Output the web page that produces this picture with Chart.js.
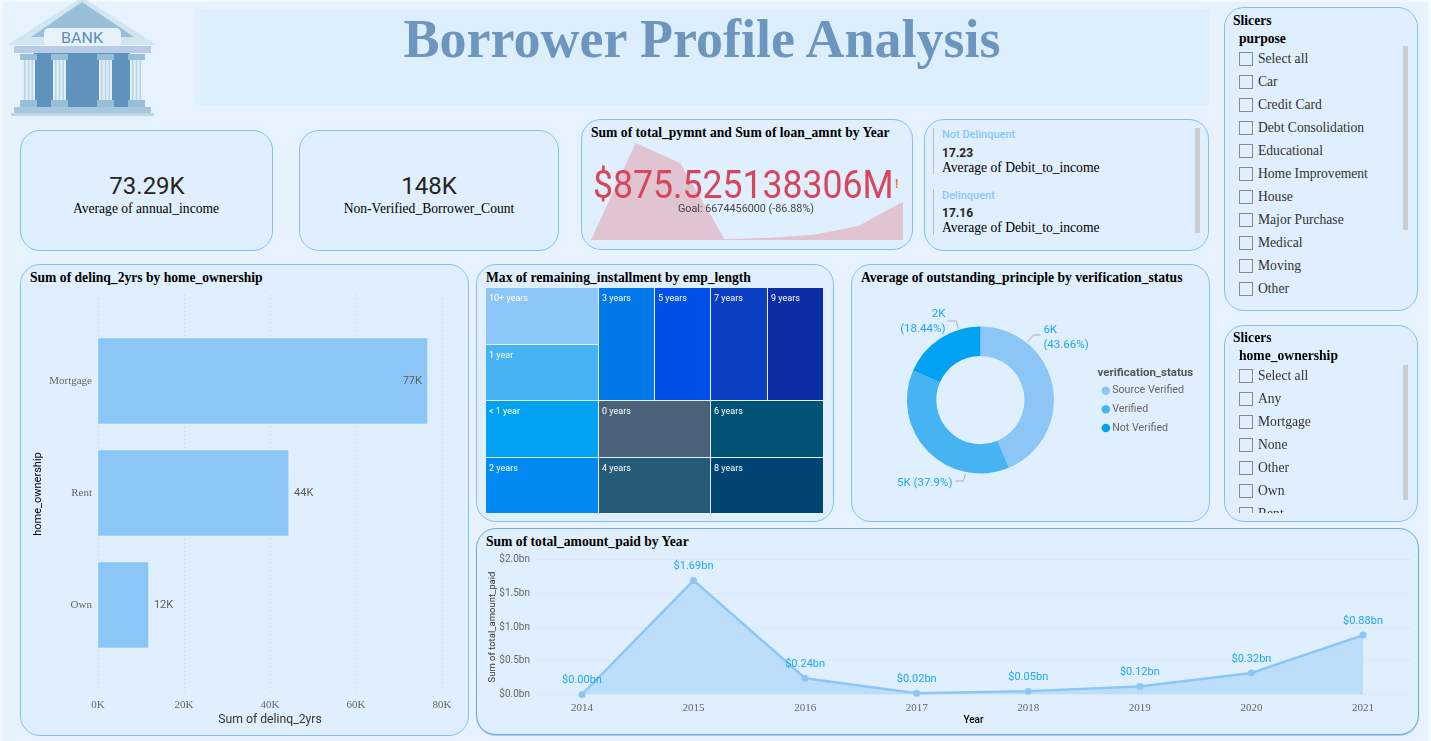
<!DOCTYPE html>
<html>
<head>
<meta charset="utf-8">
<title>Borrower Profile Analysis</title>
<script src="https://cdn.jsdelivr.net/npm/chart.js@4"></script>
<style>
html, body { margin: 0; padding: 0; background: #F3F8FC; overflow: hidden; }
#page { position: absolute; left: 3px; top: 2px; width: 1425px; height: 739px; background: #E6F3FF; }
#abs { position: absolute; left: -3px; top: -2px; width: 1431px; height: 741px; }
.panel { position: absolute; box-sizing: border-box; background: #DFEFFD; border: 1px solid #85BEF5; border-radius: 20px; }
.t { position: absolute; white-space: nowrap; line-height: 16px; font-family: "Liberation Serif", serif; color: #000; font-size: 13.6px; }
.title { font-weight: bold; font-size: 13.6px; }
.din { font-family: Roboto, sans-serif; }
.c { transform: translateX(-50%); }
canvas { position: absolute; }
.box { position: absolute; box-sizing: border-box; width: 14px; height: 14px; border: 1px solid #8a8a8a; }
.scroll { position: absolute; width: 5px; background: #C8CDD3; }
.rule { position: absolute; width: 1px; background: #B9BEC4; }
</style>
</head>
<body>
<div id="page"><div id="abs">

<svg style="position:absolute;left:0;top:0" width="170" height="120">
  <defs>
    <g id="col">
      <rect x="0" y="0" width="17" height="6" fill="#98BFD8"/>
      <rect x="2" y="6" width="13" height="40" fill="#E3EFF8"/>
      <rect x="4" y="6" width="1.5" height="40" fill="#B8D2E6"/>
      <rect x="7.8" y="6" width="1.5" height="40" fill="#B8D2E6"/>
      <rect x="11.5" y="6" width="1.5" height="40" fill="#B8D2E6"/>
      <rect x="0" y="46" width="17" height="7" fill="#98BFD8"/>
    </g>
  </defs>
  <polygon points="82,-3 7,45 157,45" fill="#D2E6F1"/>
  <polygon points="82,2 31,37 134,37" fill="#98BFD8"/>
  <rect x="44" y="28" width="77" height="18" rx="5" fill="#E6F3FD"/>
  <text x="82" y="43" text-anchor="middle" font-family="Roboto" font-size="15" fill="#5C8DBB" textLength="42" lengthAdjust="spacingAndGlyphs">BANK</text>
  <rect x="14" y="46" width="137" height="7" fill="#B8CCE8"/>
  <rect x="34" y="53" width="96" height="54" fill="#6092BE"/>
  <use href="#col" x="20" y="54"/><use href="#col" x="51" y="54"/>
  <use href="#col" x="97" y="54"/><use href="#col" x="128" y="54"/>
  <rect x="14" y="107" width="137" height="6" fill="#A5C8DE"/>
  <rect x="11" y="113" width="143" height="3" fill="#BCD8E8"/>
</svg>

<div style="position:absolute;left:195px;top:9px;width:1014px;height:96px;background:#DDEFFD"></div>
<div class="t c" style="left:702px;top:12px;line-height:54px;font-size:54px;font-weight:bold;color:#6C96BD">Borrower Profile Analysis</div>

<div class="panel" style="left:20px;top:130px;width:253px;height:121px"></div>
<div class="t c din" style="left:147px;top:174px;line-height:24px;font-size:24px;color:#252423">73.29K</div>
<div class="t c" style="left:146px;top:201px">Average of annual_income</div>

<div class="panel" style="left:299px;top:130px;width:260px;height:121px"></div>
<div class="t c din" style="left:429px;top:174px;line-height:24px;font-size:24px;color:#252423">148K</div>
<div class="t c" style="left:429px;top:201px">Non-Verified_Borrower_Count</div>

<div class="panel" style="left:581px;top:119px;width:332px;height:131px"></div>
<canvas id="sparkChart" width="312" height="97" style="left:591px;top:143px"></canvas>
<div class="t title" style="left:591px;top:125px">Sum of total_pymnt and Sum of loan_amnt by Year</div>
<div class="t din" style="left:593px;top:166px;line-height:38px;font-size:38px;color:#D9455A;transform:scaleX(0.937);transform-origin:left">$875.525138306M</div>
<div class="t din" style="left:895px;top:176px;font-size:12px;font-weight:700;color:#E8743B">!</div>
<div class="t c din" style="left:746px;top:201px;font-size:10.8px;color:#444">Goal: 6674456000 (-86.88%)</div>

<div class="panel" style="left:924px;top:119px;width:285px;height:132px"></div>
<div class="rule" style="left:933px;top:128px;height:46px"></div>
<div class="rule" style="left:933px;top:189px;height:46px"></div>
<div class="scroll" style="left:1195px;top:128px;height:105px"></div>
<div class="t din" style="left:942px;top:127px;font-size:11px;font-weight:500;color:#8CC6F7">Not Delinquent</div>
<div class="t din" style="left:942px;top:145px;font-size:12px;font-weight:700;color:#252423">17.23</div>
<div class="t" style="left:942px;top:160px">Average of Debit_to_income</div>
<div class="t din" style="left:942px;top:188px;font-size:11px;font-weight:500;color:#8CC6F7">Delinquent</div>
<div class="t din" style="left:942px;top:205px;font-size:12px;font-weight:700;color:#252423">17.16</div>
<div class="t" style="left:942px;top:220px">Average of Debit_to_income</div>

<div class="panel" style="left:20px;top:264px;width:449px;height:472px"></div>
<div class="t title" style="left:30px;top:270px">Sum of delinq_2yrs by home_ownership</div>
<canvas id="barChart" width="445" height="448" style="left:22px;top:285px"></canvas>

<div class="panel" style="left:476px;top:264px;width:358px;height:258px"></div>
<div class="t title" style="left:486px;top:270px">Max of remaining_installment by emp_length</div>
<canvas id="treeChart" width="338" height="226" style="left:486px;top:288px"></canvas>

<div class="panel" style="left:851px;top:264px;width:359px;height:258px"></div>
<div class="t title" style="left:861px;top:270px">Average of outstanding_principle by verification_status</div>
<canvas id="donutChart" width="354" height="220" style="left:853px;top:290px"></canvas>

<div class="panel" style="left:476px;top:528px;width:943px;height:207px;border-color:#6FA8DC;box-shadow:0 1px 0 #A6CDF0"></div>
<div class="t title" style="left:486px;top:534px">Sum of total_amount_paid by Year</div>
<canvas id="lineChart" width="936" height="183" style="left:479px;top:550px"></canvas>

<div class="panel" style="left:1224px;top:7px;width:194px;height:304px"></div>
<div id="slicerPurpose"></div>
<div class="scroll" style="left:1403px;top:46px;height:184px"></div>

<div class="panel" style="left:1224px;top:325px;width:194px;height:197px"></div>
<div id="slicerHome" style="position:absolute;left:0;top:0;width:1431px;height:513px;overflow:hidden"></div>
<div class="scroll" style="left:1403px;top:365px;height:135px"></div>

</div></div>

<script>
// delinq_2yrs by home_ownership
const homeOwnership = ['Mortgage', 'Rent', 'Own'];
const delinqSum = [76500, 44200, 11600];
const delinqLabels = ['77K', '44K', '12K'];

// treemap, every tile is about the same size
const empLengths = ['10+ years', '1 year', '< 1 year', '2 years', '3 years', '5 years', '7 years', '9 years', '0 years', '6 years', '4 years', '8 years'];
const remainingMax = [60, 60, 60, 60, 60, 60, 60, 60, 60, 60, 60, 60];
const empColors = ['#8CC6F7', '#46B3F3', '#00A2F1', '#0089F0', '#0078E8', '#0050E8', '#0A3FC4', '#0C2DA3', '#4A6279', '#005374', '#255B78', '#004473'];

// donut
const verifyStatus = ['Source Verified', 'Verified', 'Not Verified'];
const verifyShare = [43.66, 37.9, 18.44];
const verifyColors = ['#8CC6F7', '#46B3F3', '#00A2F1'];

// years shared by the two area charts
const years = [2014, 2015, 2016, 2017, 2018, 2019, 2020, 2021];
const amountPaid = [0.00, 1.69, 0.24, 0.02, 0.05, 0.12, 0.32, 0.88];
const pymntTrend = [0.00, 2.23, 1.77, 0.02, 0.05, 0.12, 0.32, 0.88];

// slicers
const purposeItems = ['Select all', 'Car', 'Credit Card', 'Debt Consolidation', 'Educational', 'Home Improvement', 'House', 'Major Purchase', 'Medical', 'Moving', 'Other'];
const homeItems = ['Select all', 'Any', 'Mortgage', 'None', 'Other', 'Own', 'Rent'];

const SERIF = '"Liberation Serif", serif';
const SANS = 'Roboto, sans-serif';

function buildSlicer(id, field, items, top, firstRow) {
    var html = `<div class="t title" style="left:1233px;top:${top - 7}px">Slicers</div>`;
    html += `<div class="t title" style="left:1239px;top:${top + 11}px">${field}</div>`;
    for (var i = 0; i < items.length; i++) {
        var y = firstRow + i * 23;
        html += `<div class="box" style="left:1239px;top:${y - 7}px"></div>`;
        html += `<div class="t" style="left:1258px;top:${y - 8}px;color:#333">${items[i]}</div>`;
    }
    document.getElementById(id).innerHTML = html;
}
buildSlicer('slicerPurpose', 'purpose', purposeItems, 20, 58.5);
buildSlicer('slicerHome', 'home_ownership', homeItems, 337, 376);

// sparkline behind the goal card
new Chart(document.getElementById('sparkChart'), {
    type: 'line',
    data: {
        labels: years,
        datasets: [{
            data: pymntTrend,
            borderWidth: 0,
            pointRadius: 0,
            backgroundColor: '#E0C4D2',
            fill: 'origin',
            clip: false
        }]
    },
    options: {
        responsive: false,
        animation: false,
        plugins: { legend: { display: false }, tooltip: { enabled: false } },
        scales: {
            x: { display: false },
            y: { display: false, min: 0, max: 2.23 }
        }
    }
});

// bar chart, y is linear so the gridlines can run past the bands
const barLabelPlugin = {
    id: 'barLabels',
    afterDatasetsDraw(chart) {
        var ctx = chart.ctx;
        var meta = chart.getDatasetMeta(0);
        ctx.save();
        ctx.font = '11px ' + SANS;
        ctx.fillStyle = '#605E5C';
        ctx.textBaseline = 'middle';
        meta.data.forEach(function (bar, i) {
            var inside = delinqSum[i] > 70000;
            ctx.textAlign = inside ? 'right' : 'left';
            ctx.fillText(delinqLabels[i], bar.x + (inside ? -5 : 6), bar.y);
        });
        ctx.restore();
    }
};
new Chart(document.getElementById('barChart'), {
    type: 'bar',
    data: {
        datasets: [{
            data: delinqSum.map((v, i) => ({ x: v, y: i })),
            backgroundColor: '#8CC6F7',
            barThickness: 85
        }]
    },
    options: {
        indexAxis: 'y',
        responsive: false,
        animation: false,
        layout: { padding: { left: 10, right: 25, top: 10 } },
        plugins: { legend: { display: false }, tooltip: { enabled: false } },
        scales: {
            x: {
                min: 0, max: 80000,
                ticks: { stepSize: 20000, padding: 6, color: '#666', font: { family: SERIF, size: 11 }, callback: v => (v / 1000) + 'K' },
                grid: { color: '#CDD6DE', drawTicks: false },
                border: { display: false, dash: [1, 3] },
                title: { display: true, text: 'Sum of delinq_2yrs', color: '#333', padding: { top: 3, bottom: 6 }, font: { family: SANS, size: 12.2 } },
                afterFit: s => { s.height = 40; }
            },
            y: {
                type: 'linear',
                offset: false,
                reverse: true,
                min: -0.768, max: 2.786,
                afterBuildTicks: s => { s.ticks = homeOwnership.map((n, i) => ({ value: i })); },
                ticks: { padding: 6, color: '#666', font: { family: SERIF, size: 11 }, callback: v => homeOwnership[v] },
                grid: { display: false, drawTicks: false },
                border: { display: false },
                title: { display: true, text: 'home_ownership', color: '#000', padding: 0, font: { family: SANS, size: 11 } },
                afterFit: s => { s.width = 66; s.paddingTop = 0; s.paddingBottom = 0; }
            }
        }
    },
    plugins: [barLabelPlugin]
});

// treemap: left column holds the first four tiles, the rest fill three rows
function layoutTreemap(values) {
    var sum = a => a.reduce((p, c) => p + c, 0);
    var total = sum(values);
    var cells = [];
    var left = values.slice(0, 4);
    var leftW = sum(left);
    var y = 0;
    left.forEach(function (v) {
        cells.push({ x0: 0, x1: leftW, y0: y, y1: y + v / leftW });
        y += v / leftW;
    });
    var start = 4;
    var rowY = 0;
    var restTotal = total - leftW;
    [4, 2, 2].forEach(function (n) {
        var row = values.slice(start, start + n);
        var rowSum = sum(row);
        var h = rowSum / restTotal;
        var x = leftW;
        row.forEach(function (v) {
            var w = v / rowSum * restTotal;
            cells.push({ x0: x, x1: x + w, y0: rowY, y1: rowY + h });
            x += w;
        });
        rowY += h;
        start += n;
    });
    return cells.map(c => Object.assign(c, { x: (c.x0 + c.x1) / 2, y: (c.y0 + c.y1) / 2 }));
}
const treeCells = layoutTreemap(remainingMax);
const treemapPlugin = {
    id: 'treeTiles',
    afterDatasetsDraw(chart) {
        var ctx = chart.ctx;
        var sx = chart.scales.x, sy = chart.scales.y;
        ctx.save();
        treeCells.forEach(function (c, i) {
            var x = Math.round(sx.getPixelForValue(c.x0)), r = Math.round(sx.getPixelForValue(c.x1));
            var y = Math.round(sy.getPixelForValue(c.y0)), b = Math.round(sy.getPixelForValue(c.y1));
            ctx.fillStyle = empColors[i];
            ctx.fillRect(x, y, r - x, b - y);
            // 1px gap on the right and bottom of each tile
            ctx.fillStyle = '#E6F1FB';
            ctx.fillRect(r - 1, y, 1, b - y);
            ctx.fillRect(x, b - 1, r - x, 1);
            ctx.fillStyle = '#fff';
            ctx.font = '9px ' + SANS;
            ctx.textBaseline = 'middle';
            ctx.fillText(empLengths[i], x + 3, y + 10.5);
        });
        ctx.restore();
    }
};
new Chart(document.getElementById('treeChart'), {
    type: 'scatter',
    data: { datasets: [{ data: treeCells, pointRadius: 0 }] },
    options: {
        responsive: false,
        animation: false,
        plugins: { legend: { display: false }, tooltip: { enabled: false } },
        scales: {
            x: { display: false, min: 0, max: remainingMax.reduce((p, c) => p + c, 0) },
            y: { display: false, min: 0, max: 1, reverse: true }
        }
    },
    plugins: [treemapPlugin]
});

// donut, leader lines are placed from the arc centre
const donutCallouts = [
    { lines: ['6K', '(43.66%)'], align: 'left', tx: 63, ty: [-70, -55], path: [[47, -58], [53, -65], [60, -65]] },
    { lines: ['5K (37.9%)'], align: 'right', tx: -28, ty: [83], path: [[-15, 74], [-17, 81], [-25, 81]] },
    { lines: ['2K', '(18.44%)'], align: 'right', tx: -35, ty: [-86, -71], path: [[-22, -71], [-24, -79], [-33, -79]] }
];
const donutLabelPlugin = {
    id: 'donutLabels',
    afterDatasetsDraw(chart) {
        var ctx = chart.ctx;
        var arc = chart.getDatasetMeta(0).data[0];
        ctx.save();
        ctx.font = '11.5px ' + SANS;
        ctx.textBaseline = 'middle';
        donutCallouts.forEach(function (c) {
            ctx.strokeStyle = '#B3B0AD';
            ctx.lineWidth = 1;
            ctx.beginPath();
            c.path.forEach((p, i) => i ? ctx.lineTo(arc.x + p[0], arc.y + p[1]) : ctx.moveTo(arc.x + p[0], arc.y + p[1]));
            ctx.stroke();
            ctx.fillStyle = '#1FA6F5';
            ctx.textAlign = c.align;
            c.lines.forEach((t, i) => ctx.fillText(t, arc.x + c.tx, arc.y + c.ty[i]));
        });
        ctx.restore();
    }
};
new Chart(document.getElementById('donutChart'), {
    type: 'doughnut',
    data: {
        labels: verifyStatus,
        datasets: [{ data: verifyShare, backgroundColor: verifyColors, borderWidth: 0 }]
    },
    options: {
        responsive: false,
        animation: false,
        radius: 73.5,
        cutout: '60%',
        layout: { padding: { left: 11, right: 13, top: 0, bottom: 0 } },
        plugins: {
            tooltip: { enabled: false },
            legend: {
                position: 'right',
                align: 'start',
                title: { display: true, text: 'verification_status', color: '#555', position: 'center', padding: { top: 77.5, bottom: -4 }, font: { family: SANS, size: 11.5, weight: 'bold' } },
                labels: { usePointStyle: true, pointStyle: 'circle', boxWidth: 2, boxHeight: 6, padding: 8, color: '#666', font: { family: SANS, size: 10.7 } }
            }
        }
    },
    plugins: [donutLabelPlugin]
});

// area line, x is linear to keep the gridline span of the reference
const lineLabelPlugin = {
    id: 'lineLabels',
    afterDatasetsDraw(chart) {
        var ctx = chart.ctx;
        ctx.save();
        ctx.font = '11px ' + SANS;
        ctx.fillStyle = '#1FA6F5';
        ctx.textAlign = 'center';
        ctx.textBaseline = 'middle';
        chart.getDatasetMeta(0).data.forEach(function (pt, i) {
            ctx.fillText('$' + amountPaid[i].toFixed(2) + 'bn', pt.x, pt.y - 14);
        });
        ctx.restore();
    }
};
new Chart(document.getElementById('lineChart'), {
    type: 'line',
    data: {
        datasets: [{
            data: years.map((y, i) => ({ x: y, y: amountPaid[i] })),
            borderColor: '#8CC6F7',
            backgroundColor: '#BCDEFA',
            borderWidth: 2.5,
            pointRadius: 3.5,
            pointBackgroundColor: '#8CC6F7',
            pointBorderWidth: 0,
            tension: 0,
            fill: 'origin',
            clip: false
        }]
    },
    options: {
        responsive: false,
        animation: false,
        layout: { padding: { left: 8, right: 5, top: 9.5 } },
        plugins: { legend: { display: false }, tooltip: { enabled: false } },
        scales: {
            x: {
                type: 'linear',
                min: 2013.597, max: 2021.421,
                afterBuildTicks: s => { s.ticks = years.map(v => ({ value: v })); },
                ticks: { padding: 7, maxRotation: 0, color: '#666', font: { family: SERIF, size: 11 }, callback: v => String(v) },
                grid: { display: false, drawTicks: false },
                border: { display: false },
                title: { display: true, text: 'Year', color: '#000', padding: { top: 1, bottom: 7 }, font: { family: SANS, size: 10, weight: '500' } },
                afterFit: s => { s.height = 38.5; }
            },
            y: {
                min: 0, max: 2,
                ticks: { stepSize: 0.5, padding: 7, color: '#666', font: { family: SANS, size: 10 }, callback: v => '$' + v.toFixed(1) + 'bn' },
                grid: { color: '#CDD6DE', drawTicks: false },
                border: { display: false, dash: [1, 3] },
                title: { display: true, text: 'Sum of total_amount_paid', color: '#333', padding: 0, font: { family: SANS, size: 9.5 } },
                afterFit: s => { s.width = 50; s.paddingTop = 0; s.paddingBottom = 0; }
            }
        }
    },
    plugins: [lineLabelPlugin]
});
</script>
</body>
</html>
